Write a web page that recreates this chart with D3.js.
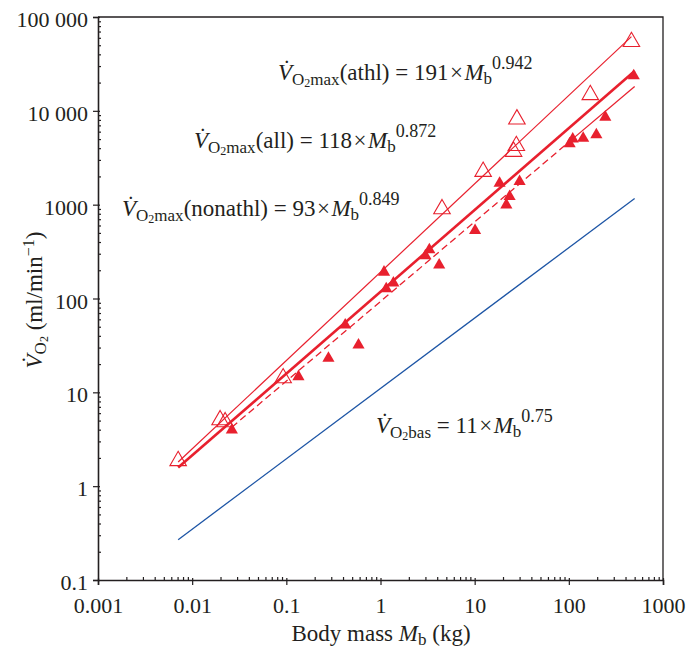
<!DOCTYPE html>
<html>
<head>
<meta charset="utf-8">
<script src="https://cdn.jsdelivr.net/npm/d3@7"></script>
<style>
  body { margin: 0; background: #fff; }
  text { font-family: "Liberation Serif", "Times New Roman", serif; fill: #231f20; }
</style>
</head>
<body>
<div id="chart"></div>
<script>
// body mass (kg) and VO2 (ml/min)
const athlMass = [0.0071, 0.0198, 0.0224, 0.0925, 4.5, 12.3, 25.9, 27.7, 28.1, 169, 462];
const athlVO2  = [1.86, 5.08, 4.83, 14.2, 900, 2250, 3680, 4240, 8150, 14800, 54400];

const nonathlMass = [0.0264, 0.1345, 0.28, 0.422, 0.584, 1.09, 1.15, 1.37, 3.0, 3.3, 4.2, 10.1,
                     18.4, 21.7, 23.5, 30.0, 102, 110, 142, 196, 244, 489];
const nonathlVO2  = [3.97, 14.7, 23.1, 52.3, 32.0, 191, 127, 146, 285, 330, 228, 530,
                     1694, 995, 1220, 1763, 4450, 5000, 5100, 5550, 8570, 23600];

// allometric fits  VO2 = a * Mb^b
const fitNames = ["athl", "all", "nonathl", "bas"];
const fitCoef  = [191, 118, 93, 11];
const fitExp   = [0.942, 0.872, 0.849, 0.75];
const fitFrom  = [0.0071, 0.0071, 0.0264, 0.0071];
const fitTo    = [462, 500, 500, 500];

const xTicks = [0.001, 0.01, 0.1, 1, 10, 100, 1000];
const xTickLabels = ["0.001", "0.01", "0.1", "1", "10", "100", "1000"];
const yTicks = [0.1, 1, 10, 100, 1000, 10000, 100000];
const yTickLabels = ["0.1", "1", "10", "100", "1000", "10 000", "100 000"];

const width = 694, height = 653;
const margin = { top: 17, right: 31, bottom: 73, left: 98 };
const red = "#e8202e", blue = "#1d55a5";

const svg = d3.select("#chart").append("svg")
  .attr("width", width)
  .attr("height", height);

const x = d3.scaleLog().domain([0.001, 1000]).range([margin.left, width - margin.right]);
const y = d3.scaleLog().domain([0.1, 100000]).range([height - margin.bottom, margin.top]);

// minor ticks 2..9 in every decade
function minors(ticks) {
  const out = [];
  ticks.slice(0, -1).forEach(t => { for (let k = 2; k <= 9; k++) out.push(t * k); });
  return out;
}

// frame (top and right, no ticks)
svg.append("path")
  .attr("d", `M${x(0.001)},${y(100000)}H${x(1000)}V${y(0.1)}`)
  .attr("fill", "none").attr("stroke", "#231f20").attr("stroke-width", 1.3);

// x axis
const xMinor = svg.append("g").attr("transform", `translate(0,${y(0.1)})`)
  .call(d3.axisBottom(x).tickValues(minors(xTicks)).tickSize(-3).tickFormat(""));
const xMajor = svg.append("g").attr("transform", `translate(0,${y(0.1)})`)
  .call(d3.axisBottom(x).tickValues(xTicks).tickSizeOuter(0).tickSize(5)
    .tickFormat((d, i) => xTickLabels[i]));
xMajor.selectAll(".tick line").attr("y1", -2);
xMajor.selectAll("text").attr("y", 33).attr("dy", 0).style("font-size", "22px")
  .style("font-family", "Liberation Serif").attr("fill", "#231f20");

// y axis
const yMinor = svg.append("g").attr("transform", `translate(${x(0.001)},0)`)
  .call(d3.axisLeft(y).tickValues(minors(yTicks)).tickSize(-3).tickFormat(""));
const yMajor = svg.append("g").attr("transform", `translate(${x(0.001)},0)`)
  .call(d3.axisLeft(y).tickValues(yTicks).tickSizeOuter(0).tickSize(5)
    .tickFormat((d, i) => yTickLabels[i]));
yMajor.selectAll(".tick line").attr("x1", 2);
yMajor.selectAll("text").attr("x", -10).attr("dy", 9.5).style("font-size", "22px")
  .style("font-family", "Liberation Serif").attr("fill", "#231f20");

svg.selectAll(".domain").attr("stroke", "#231f20").attr("stroke-width", 1.6);
svg.selectAll(".tick line").attr("stroke", "#231f20").attr("stroke-width", 1.2);
xMinor.select(".domain").remove();
yMinor.select(".domain").remove();

// fit lines
const line = d3.line().x(d => x(d[0])).y(d => y(d[1]));
const fitStyle = {
  athl:    { stroke: red,  width: 1.2, dash: null },
  all:     { stroke: red,  width: 2.6, dash: null },
  nonathl: { stroke: red,  width: 1.3, dash: "7,4" },
  bas:     { stroke: blue, width: 1.3, dash: null }
};
fitNames.forEach((name, i) => {
  const f = m => fitCoef[i] * Math.pow(m, fitExp[i]);
  let segs = [[fitFrom[i], fitTo[i]]];
  // the non-athletic line turns solid past the largest animals' cluster
  if (name === "nonathl") segs = [[fitFrom[i], 100], [100, fitTo[i]]];
  segs.forEach((s, j) => {
    svg.append("path")
      .attr("d", line([[s[0], f(s[0])], [s[1], f(s[1])]]))
      .attr("fill", "none")
      .attr("stroke", fitStyle[name].stroke)
      .attr("stroke-width", fitStyle[name].width)
      .attr("stroke-dasharray", j === 0 ? fitStyle[name].dash : null);
  });
});

// points
const tri = d3.symbol().type(d3.symbolTriangle);
svg.append("g").selectAll("path")
  .data(nonathlMass.map((m, i) => [m, nonathlVO2[i]]))
  .join("path")
  .attr("transform", d => `translate(${x(d[0])},${y(d[1])})`)
  .attr("d", tri.size(64)())
  .attr("fill", red);

svg.append("g").selectAll("path")
  .data(athlMass.map((m, i) => [m, athlVO2[i]]))
  .join("path")
  .attr("transform", d => `translate(${x(d[0])},${y(d[1])})`)
  .attr("d", tri.size(118)())
  .attr("fill", "none")
  .attr("stroke", red)
  .attr("stroke-width", 1.1);

// equation labels
function equation(x0, y0, sub, group, coef, expo) {
  const t = svg.append("text").attr("x", x0).attr("y", y0).style("font-size", "23px");
  t.append("tspan").style("font-style", "italic").text("V\u0307");
  t.append("tspan").attr("dy", 5).style("font-size", "17px").text("O");
  t.append("tspan").attr("dy", 2).style("font-size", "12px").text("2");
  t.append("tspan").attr("dy", -2).style("font-size", "17px").text(sub);
  t.append("tspan").attr("dy", -5).text(`${group} = ${coef}`);
  t.append("tspan").attr("dx", 1.5).text("\u00d7");
  t.append("tspan").attr("dx", 1.5).style("font-style", "italic").text("M");
  t.append("tspan").attr("dy", 4).style("font-size", "17px").text("b");
  t.append("tspan").attr("dy", -15).style("font-size", "18px").text(expo);
}
equation(278, 80, "max", "(athl)", fitCoef[0], fitExp[0]);
equation(194, 148, "max", "(all)", fitCoef[1], fitExp[1]);
equation(122, 216, "max", "(nonathl)", fitCoef[2], fitExp[2]);
equation(376, 433, "bas", "", fitCoef[3], fitExp[3]);

// axis titles
const xl = svg.append("text").attr("x", 381).attr("y", 641)
  .attr("text-anchor", "middle").style("font-size", "23px");
xl.append("tspan").text("Body mass ");
xl.append("tspan").style("font-style", "italic").text("M");
xl.append("tspan").attr("dy", 4).style("font-size", "17px").text("b");
xl.append("tspan").attr("dy", -4).text(" (kg)");

const yl = svg.append("text")
  .attr("transform", "translate(42,300) rotate(-90)")
  .attr("text-anchor", "middle").style("font-size", "23px");
yl.append("tspan").style("font-style", "italic").text("V\u0307");
yl.append("tspan").attr("dy", 4).style("font-size", "17px").text("O");
yl.append("tspan").attr("dy", 2).style("font-size", "12px").text("2");
yl.append("tspan").attr("dy", -6).text(" (ml/min");
yl.append("tspan").attr("dy", -8).style("font-size", "16px").text("\u22121");
yl.append("tspan").attr("dy", 8).text(")");
</script>
</body>
</html>
